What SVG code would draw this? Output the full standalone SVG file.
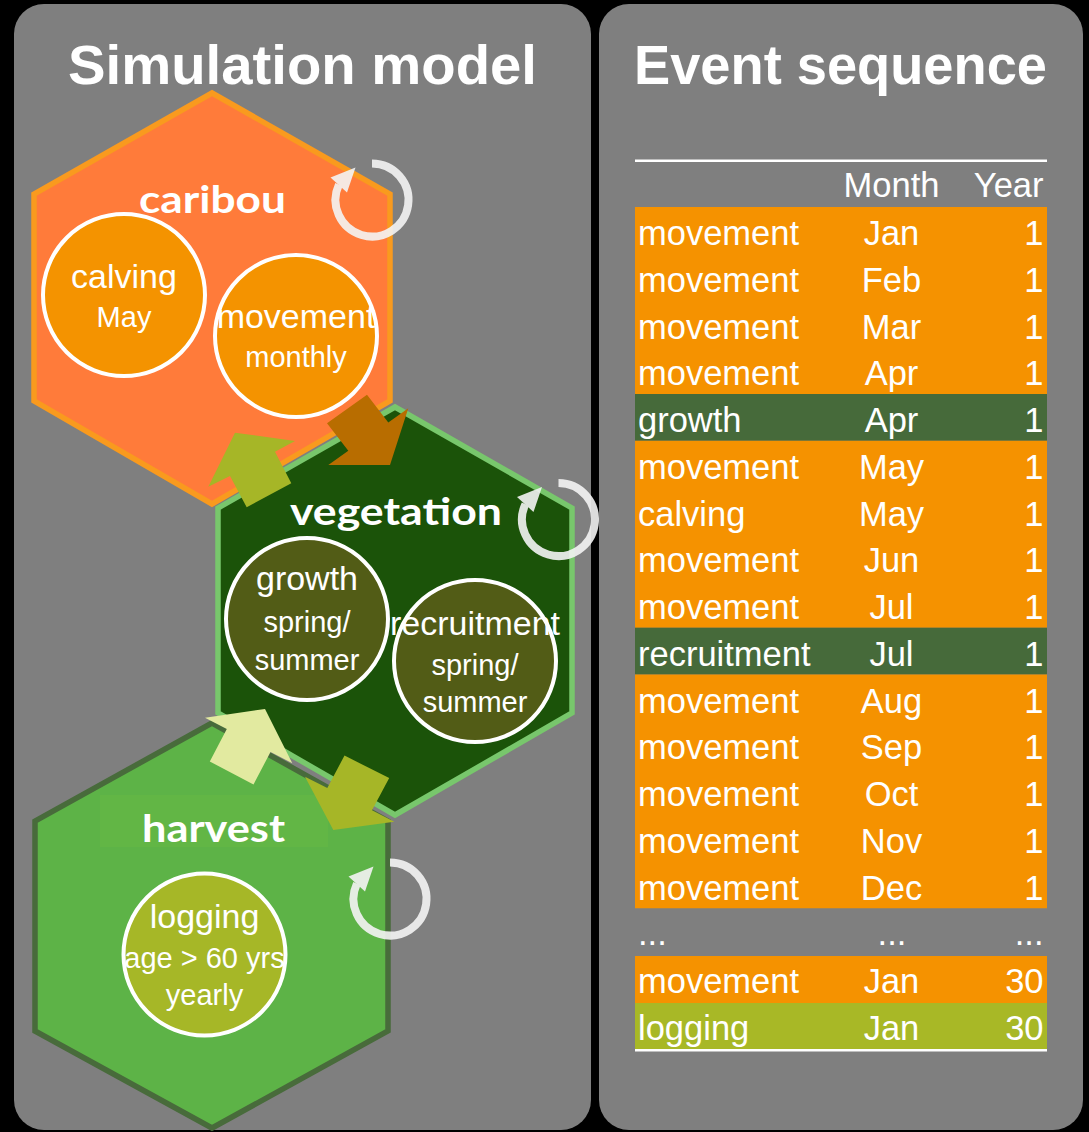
<svg xmlns="http://www.w3.org/2000/svg" xmlns:xlink="http://www.w3.org/1999/xlink" width="1089" height="1132" viewBox="0 0 1089 1132">
<style>
.panel{fill:#7F7F7F}
.ptitle{font-family:"Liberation Sans",Arial,sans-serif;font-weight:bold;font-size:56px;fill:#FFFFFF;text-anchor:middle}
.htitle{font-family:Lato,"Liberation Sans",sans-serif;font-weight:bold;font-size:38px;fill:#FFFFFF;text-anchor:middle}
.lbl{font-family:"Liberation Sans",Arial,sans-serif;font-size:34px;fill:#FFFFFF;text-anchor:middle}
.sub{font-family:"Liberation Sans",Arial,sans-serif;font-size:29px;fill:#FFFFFF;text-anchor:middle}
.circ{stroke:#FFFFFF;stroke-width:4}
.t{font-family:"Liberation Sans",Arial,sans-serif;font-size:34.5px;fill:#FFFFFF}
.tl{text-anchor:start}
.tm{text-anchor:middle}
.tr{text-anchor:end}
.or{fill:#F59200}
.gr{fill:#466A3A}
.ol{fill:#A8B826}
</style>
<defs>
<g id="cyc">
<path d="M0,-36.5 A36.5,36.5 0 1 1 -33.1,-15.4" fill="none" stroke="#F4F4F4" stroke-width="8"/>
<polygon points="-41.5,-22.5 -16.5,-32.5 -25,-7.5" fill="#F4F4F4"/>
</g>
</defs>
<rect x="0" y="0" width="1089" height="1132" fill="#000000"/>
<g id="panel-left">
<rect class="panel" x="14" y="4" width="577" height="1126" rx="30"/>
<text class="ptitle" x="302.5" y="84" textLength="469" lengthAdjust="spacingAndGlyphs">Simulation model</text>
</g>
<g id="panel-right">
<rect class="panel" x="599" y="4" width="484" height="1126" rx="30"/>
<text class="ptitle" x="840.5" y="84" textLength="413" lengthAdjust="spacingAndGlyphs">Event sequence</text>
</g>

<g id="node-caribou">
<polygon points="212,93 390,194 390,401 212,504 34,401 34,194" fill="#FF7B3A" stroke="#F99A1E" stroke-width="5.5"/>
<text class="htitle" x="212.5" y="213" textLength="147" lengthAdjust="spacingAndGlyphs">caribou</text>
<circle class="circ" cx="124" cy="295" r="81" fill="#F49300"/>
<text class="lbl" x="124" y="288">calving</text>
<text class="sub" x="124" y="327">May</text>
<circle class="circ" cx="296" cy="336" r="81" fill="#F49300"/>
<text class="lbl" x="296" y="328">movement</text>
<text class="sub" x="296" y="367">monthly</text>
</g>

<g id="node-vegetation">
<polygon points="395,407 572,508 572,713 395,815 218,713 218,508" fill="#1B5309" stroke="#78C76C" stroke-width="5.5"/>
<text class="htitle" x="396" y="525" textLength="212" lengthAdjust="spacingAndGlyphs">vegetation</text>
<circle class="circ" cx="307" cy="619" r="81" fill="#525C16"/>
<text class="lbl" x="307" y="590">growth</text>
<text class="sub" x="307" y="632">spring/</text>
<text class="sub" x="307" y="670">summer</text>
<circle class="circ" cx="475" cy="661" r="81" fill="#525C16"/>
<text class="lbl" x="475" y="635">recruitment</text>
<text class="sub" x="475" y="675">spring/</text>
<text class="sub" x="475" y="712">summer</text>
</g>

<g id="node-harvest">
<polygon points="212,723 388,821 388,1031 212,1128 35,1031 35,821" fill="#5DB347" stroke="#486B3B" stroke-width="5.5"/>
<rect x="100" y="795" width="228" height="52" fill="#62B645"/>
<text class="htitle" x="213.5" y="842" textLength="143" lengthAdjust="spacingAndGlyphs">harvest</text>
<circle class="circ" cx="204.5" cy="954.5" r="81" fill="#A6B727"/>
<text class="lbl" x="204.5" y="928">logging</text>
<text class="sub" x="204.5" y="968" font-size="28">age &gt; 60 yrs</text>
<text class="sub" x="204.5" y="1005">yearly</text>
</g>

<g id="connectors">
<polygon points="390,465 408.3,408.3 388.3,422.5 367,394.8 327,423.2 348.3,450.8 328.3,465" fill="#B86D00"/>
<polygon points="235,432.7 295,441 275,451.7 291.3,483.3 246.7,507.3 230,476 208.3,486.7" fill="#A6B627"/>
<polygon points="265,709 292.3,763.3 270.5,752 253.5,784.5 209.8,761.5 226.8,729 205,717.7" fill="#E2EAA0"/>
<polygon points="333.3,830 305,776.7 327.3,787.9 344.5,755.6 389.2,778 372,810.3 394.3,821.7" fill="#A6B627"/>
<use xlink:href="#cyc" href="#cyc" x="372" y="200" opacity="0.9"/>
<use xlink:href="#cyc" href="#cyc" x="558.5" y="519.5" opacity="0.9"/>
<use xlink:href="#cyc" href="#cyc" x="390" y="899" opacity="0.9"/>
</g>

<g id="table">
<rect x="635" y="159.5" width="412" height="2.5" fill="#FFFFFF"/>
<text class="t tm" x="891.5" y="197">Month</text>
<text class="t tr" x="1043.5" y="197">Year</text>
<rect class="or" x="635" y="207" width="412" height="187"/>
<rect class="gr" x="635" y="394" width="412" height="46.75"/>
<rect class="or" x="635" y="440.75" width="412" height="187"/>
<rect class="gr" x="635" y="627.75" width="412" height="46.75"/>
<rect class="or" x="635" y="674.5" width="412" height="233.75"/>
<rect class="or" x="635" y="956" width="412" height="47"/>
<rect class="ol" x="635" y="1003" width="412" height="46.5"/>
<rect x="635" y="1049" width="412" height="2.5" fill="#FFFFFF"/>

<text class="t tl" x="638" y="245">movement</text><text class="t tm" x="891.5" y="245">Jan</text><text class="t tr" x="1043.5" y="245">1</text>
<text class="t tl" x="638" y="291.75">movement</text><text class="t tm" x="891.5" y="291.75">Feb</text><text class="t tr" x="1043.5" y="291.75">1</text>
<text class="t tl" x="638" y="338.5">movement</text><text class="t tm" x="891.5" y="338.5">Mar</text><text class="t tr" x="1043.5" y="338.5">1</text>
<text class="t tl" x="638" y="385.25">movement</text><text class="t tm" x="891.5" y="385.25">Apr</text><text class="t tr" x="1043.5" y="385.25">1</text>
<text class="t tl" x="638" y="432">growth</text><text class="t tm" x="891.5" y="432">Apr</text><text class="t tr" x="1043.5" y="432">1</text>
<text class="t tl" x="638" y="478.75">movement</text><text class="t tm" x="891.5" y="478.75">May</text><text class="t tr" x="1043.5" y="478.75">1</text>
<text class="t tl" x="638" y="525.5">calving</text><text class="t tm" x="891.5" y="525.5">May</text><text class="t tr" x="1043.5" y="525.5">1</text>
<text class="t tl" x="638" y="572.25">movement</text><text class="t tm" x="891.5" y="572.25">Jun</text><text class="t tr" x="1043.5" y="572.25">1</text>
<text class="t tl" x="638" y="619">movement</text><text class="t tm" x="891.5" y="619">Jul</text><text class="t tr" x="1043.5" y="619">1</text>
<text class="t tl" x="638" y="665.75">recruitment</text><text class="t tm" x="891.5" y="665.75">Jul</text><text class="t tr" x="1043.5" y="665.75">1</text>
<text class="t tl" x="638" y="712.5">movement</text><text class="t tm" x="891.5" y="712.5">Aug</text><text class="t tr" x="1043.5" y="712.5">1</text>
<text class="t tl" x="638" y="759.25">movement</text><text class="t tm" x="891.5" y="759.25">Sep</text><text class="t tr" x="1043.5" y="759.25">1</text>
<text class="t tl" x="638" y="806">movement</text><text class="t tm" x="891.5" y="806">Oct</text><text class="t tr" x="1043.5" y="806">1</text>
<text class="t tl" x="638" y="852.75">movement</text><text class="t tm" x="891.5" y="852.75">Nov</text><text class="t tr" x="1043.5" y="852.75">1</text>
<text class="t tl" x="638" y="899.5">movement</text><text class="t tm" x="891.5" y="899.5">Dec</text><text class="t tr" x="1043.5" y="899.5">1</text>
<text class="t tl" x="638" y="945" font-size="28">...</text><text class="t tm" x="892" y="945" font-size="28">...</text><text class="t tr" x="1043.5" y="945" font-size="28">...</text>
<text class="t tl" x="638" y="993">movement</text><text class="t tm" x="891.5" y="993">Jan</text><text class="t tr" x="1043.5" y="993">30</text>
<text class="t tl" x="638" y="1040">logging</text><text class="t tm" x="891.5" y="1040">Jan</text><text class="t tr" x="1043.5" y="1040">30</text>
</g>
</svg>
